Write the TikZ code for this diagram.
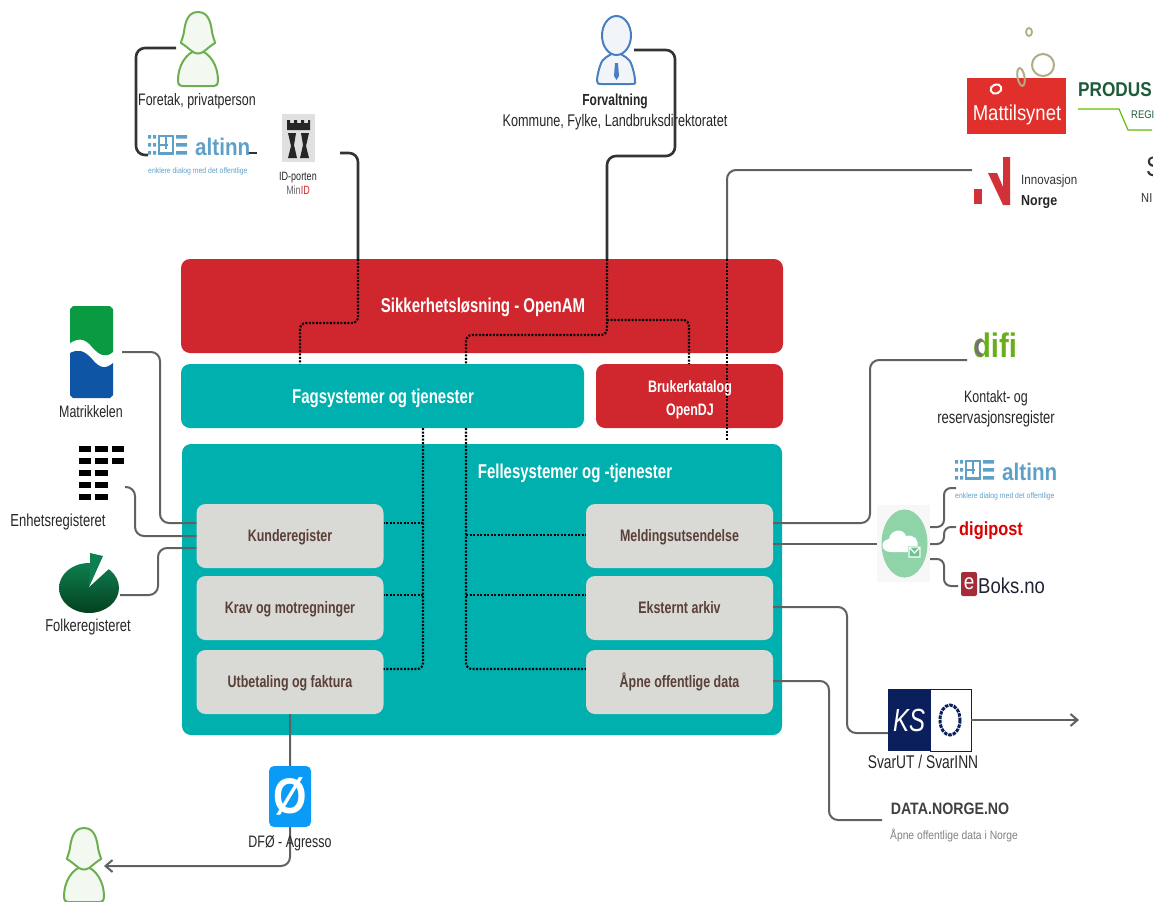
\documentclass[tikz,border=0pt]{standalone}
\usepackage{fontspec}
\setmainfont[FakeStretch=0.75]{Liberation Sans}
\newfontfamily\logofont[FakeStretch=0.86]{Liberation Sans}
\usetikzlibrary{arrows.meta}

\definecolor{redbox}{HTML}{D0262E}
\definecolor{tealbox}{HTML}{00B0AF}
\definecolor{greybox}{HTML}{D9D9D5}
\definecolor{boxtext}{HTML}{5A4038}
\definecolor{altinnblue}{HTML}{5FA0C8}
\definecolor{persongreen}{HTML}{6DAF50}
\definecolor{personblue}{HTML}{4A7FBF}
\definecolor{olive}{HTML}{B0AD85}
\definecolor{produsgreen}{HTML}{1E5B3A}
\definecolor{difigreen}{HTML}{6AAE1E}
\definecolor{mattred}{HTML}{E1302B}
\definecolor{ksnavy}{HTML}{0A1F5C}
\definecolor{dfoblue}{HTML}{0A9BF7}
\definecolor{skygreen}{HTML}{8FD3A8}
\definecolor{skydark}{HTML}{6EC491}
\definecolor{matgreen}{HTML}{0A9A42}
\definecolor{matblue}{HTML}{0E55A5}
\definecolor{folketop}{HTML}{0E7F50}
\definecolor{folkebot}{HTML}{04401F}
\definecolor{boksred}{HTML}{A62B3A}
\definecolor{boksdark}{HTML}{1E2233}

\newcommand{\fsz}[1]{\fontsize{#1}{#1}\selectfont}

\tikzset{
  x=1pt, y=-1pt,
  bigbox/.style={rounded corners=9pt, inner sep=0pt, text height=15pt, text depth=3pt, text=white, font=\fsz{20}\bfseries},
  servicebox/.style={fill=greybox, rounded corners=9pt, inner sep=0pt, minimum width=187pt, minimum height=64pt, text height=13pt, text depth=3pt, text=boxtext, font=\fsz{16.6}\bfseries},
  caption/.style={inner sep=0pt, text height=13pt, text depth=3pt, text=black!85, font=\fsz{16.6}},
  logotext/.style={anchor=base west, inner sep=0pt},
  darkwire/.style={draw=black!80, line width=2.6pt, rounded corners=9pt},
  greywire/.style={draw=black!62, line width=2pt, rounded corners=9pt},
  dotwire/.style={draw=black, line width=2.2pt, dash pattern=on 2pt off 1.5pt, rounded corners=6pt},
  arrowwire/.style={greywire, -{Straight Barb[length=7pt,width=12pt]}},
  bar/.style={fill=black, draw=none},
  person/.pic={
    \path[pic actions, line width=2pt] (0,38) .. controls (-12,40) and (-20,54) .. (-20,68) .. controls (-20,73) and (-18,74) .. (-16,74)
      -- (16,74) .. controls (18,74) and (20,73) .. (20,68) .. controls (20,54) and (12,40) .. (0,38) -- cycle;
    \path[pic actions, line width=2pt] (0,0) .. controls (-11,0) and (-13,12) .. (-14,20)
      .. controls (-15,26) and (-17,29) .. (-17,31) .. controls (-12,34) and (-8,38) .. (-5,40)
      .. controls (-2,42) and (2,42) .. (5,40) .. controls (8,38) and (12,34) .. (17,31)
      .. controls (17,29) and (15,26) .. (14,20) .. controls (13,12) and (11,0) .. (0,0) -- cycle;
  },
  altinn/.pic={
    \fill[altinnblue] (0,0) rectangle (3,3.5) (5,0) rectangle (8,3.5) (0,8) rectangle (3,11.5)
      (5,8) rectangle (8,11.5) (0,16) rectangle (3,19.5) (5,16) rectangle (8,19.5);
    \draw[altinnblue, line width=2.4pt] (11,1.2) -- (25,1.2) -- (25,18.3) -- (11,18.3) -- cycle (11,9.8) -- (20,9.8) (18,1.2) -- (18,14);
    \fill[altinnblue] (28,0) rectangle (39,3.5) (28,8) rectangle (39,11.5) (28,16) rectangle (39,19.5);
    \node[logotext, text=altinnblue, font=\logofont\fsz{24}\bfseries] at (47,20) {altinn};
    \node[logotext, text=altinnblue, font=\logofont\fsz{8}] at (0,38) {enklere dialog med det offentlige};
  },
}

\begin{document}
\begin{tikzpicture}
\useasboundingbox (0,0) rectangle (1159,902);

\node[bigbox, fill=redbox, minimum width=602pt, minimum height=94pt] (sikkerhet) at (482,306) {};
\node[bigbox, fill=tealbox, minimum width=403pt, minimum height=64pt] (fag) at (382.5,396) {};
\node[bigbox, fill=redbox, minimum width=187pt, minimum height=64pt] (katalog) at (689.5,396) {};
\node[bigbox, fill=tealbox, minimum width=600pt, minimum height=291pt] (felles) at (482,589.5) {};

\node[servicebox] (kunde) at (290,536) {Kunderegister};
\node[servicebox] (krav) at (290,608) {Krav og motregninger};
\node[servicebox] (utbetaling) at (290,682) {Utbetaling og faktura};
\node[servicebox] (melding) at (679.5,536) {Meldingsutsendelse};
\node[servicebox] (arkiv) at (679.5,608) {Eksternt arkiv};
\node[servicebox] (data) at (679.5,682) {Åpne offentlige data};

\coordinate (forvaltningut) at (634,50);
\coordinate (innovasjonut) at (972,170);
\coordinate (idut) at (340,153);
\coordinate (persontopp) at (176,48);
\coordinate (altinninn) at (148,155);
\coordinate (altinnut) at (247,153);
\coordinate (altinnend) at (257,153);

\draw[darkwire] (persontopp) -- (136,48) -- (136,155) -- (altinninn);
\draw[darkwire] (altinnut) -- (altinnend);
\draw[darkwire] (idut) -- (358,153) -- (358,259);
\draw[darkwire] (forvaltningut) -- (675,50) -- (675,156) -- (607,156) -- (607,259);
\draw[greywire] (innovasjonut) -- (727,170) -- (727,259);

\draw[dotwire] (358,259) -- (358,323) -- (300,323) -- (300,364);
\draw[dotwire] (607,259) -- (607,335) -- (466,335) -- (466,364);
\draw[dotwire] (607,320) -- (689,320) -- (689,364);
\draw[dotwire, line width=1.8pt] (727,259) -- (727,441);
\draw[dotwire] (423,428) -- (423,669) -- (utbetaling.east |- 0,669);
\draw[dotwire] (423,523) -- (kunde.east |- 0,523);
\draw[dotwire] (423,595) -- (krav.east |- 0,595);
\draw[dotwire] (466,428) -- (466,669) -- (data.west |- 0,669);
\draw[dotwire] (466,535) -- (melding.west |- 0,535);
\draw[dotwire] (466,595) -- (arkiv.west |- 0,595);

\node[bigbox] (sikkerhettext) at (483,306) {Sikkerhetsløsning - OpenAM};
\node[bigbox] (fagtext) at (383,397) {Fagsystemer og tjenester};
\node[bigbox, font=\fsz{16.6}\bfseries] (brukerkatalog) at (690,386) {Brukerkatalog};
\node[bigbox, font=\fsz{16.6}\bfseries] (opendj) at (690,409) {OpenDJ};
\node[bigbox] (fellestext) at (575,472) {Fellesystemer og -tjenester};

\node[caption] (foretak) at (197,100) {Foretak, privatperson};
\node[caption, font=\fsz{16}\bfseries] (forvaltning) at (615,100) {Forvaltning};
\node[caption, font=\fsz{16.9}] (kommune) at (615,121) {Kommune, Fylke, Landbruksdirektoratet};
\draw[darkwire] (675,100) -- (675,150);

\pic[draw=persongreen, fill=persongreen!8] at (198,12) {person};
\pic[draw=persongreen, fill=persongreen!8] at (84,828) {person};

\draw[personblue, fill=personblue!8, line width=2pt] (616,50) .. controls (608,58) and (603,56) .. (600,66) .. controls (598,72) and (597,78) .. (597,81) .. controls (597,84) and (599,84) .. (601,84) -- (631,84) .. controls (634,84) and (636,84) .. (635,81) .. controls (635,78) and (634,72) .. (632,66) .. controls (629,56) and (624,58) .. (616,50) -- cycle;
\draw[personblue, fill=personblue!8, line width=2pt] (616.5,35.5) ellipse (14.5 and 19.5);
\fill[personblue] (615,63) -- (618,63) -- (619,76) -- (616.5,80) -- (614,76) -- cycle;

\pic at (148,135) {altinn};
\pic at (955,460) {altinn};

\fill[black!12] (282,114) rectangle (315,162);
\fill[black!85] (287,120) -- (290,120) -- (290,123) -- (294,123) -- (294,120) -- (297,120) -- (297,123) -- (301,123) -- (301,120) -- (304,120) -- (304,123) -- (308,123) -- (308,120) -- (310,120) -- (310,130) -- (287,130) -- cycle;
\fill[black!85] (288,133) -- (296,133) -- (294,145) -- (297,158) -- (288,158) -- (291,146) -- cycle;
\fill[black!85] (301,133) -- (309,133) -- (306,146) -- (309,158) -- (300,158) -- (303,145) -- cycle;
\node[caption, font=\fsz{12}, text height=9pt, text depth=2pt] (idporten) at (298,177) {ID-porten};
\node[caption, font=\fsz{12}, text height=9pt, text depth=2pt] (minid) at (298,191) {\textcolor{black!60}{Min}\textcolor{redbox}{ID}};

\fill[mattred] (967,78) rectangle (1066,134);
\node[inner sep=0pt, text=white, font=\logofont\fsz{21.5}] (mattilsynet) at (1017,115) {Mattilsynet};
\draw[white, line width=2pt, rotate around={20:(996,89)}] (996,89) ellipse (5.5 and 4.5);
\draw[olive, line width=1.8pt] (1029,32) ellipse (3 and 4);
\draw[olive, line width=2pt] (1043,65) circle (11);
\draw[olive, line width=2pt, rotate around={10:(1021,77)}] (1021,77) ellipse (3.5 and 9);

\node[logotext, text=produsgreen, font=\logofont\fsz{20}\bfseries] (produs) at (1078,96) {PRODUS};
\node[logotext, text=produsgreen, font=\logofont\fsz{11}] (regi) at (1131,118) {REGI};
\draw[green!50!yellow!75!black, line width=1.2pt] (1078,109) -- (1119,109) -- (1128,130) -- (1152,130);
\begin{scope}
\clip (1130,150) rectangle (1152,182);
\node[logotext, text=black!80, font=\logofont\fsz{28}] (ssymbol) at (1146,176) {S};
\end{scope}
\node[logotext, text=black!80, font=\logofont\fsz{13}] (nibio) at (1141,202) {NI};

\fill[redbox!95!white] (974,189) rectangle (982,204);
\fill[redbox!95!white] (988,173) -- (997,173) -- (1003,187) -- (1003,157) -- (1010,157) -- (1010,205) -- (1003,205) -- cycle;
\node[logotext, text=black!80, font=\logofont\fsz{13.5}] (innovasjon) at (1021,184) {Innovasjon};
\node[logotext, text=black!85, font=\logofont\fsz{14.5}\bfseries] (norge) at (1021,205) {Norge};

\draw[greywire] (melding.east |- 0,523) -- (870,523) -- (870,360) -- (967,360);
\draw[greywire] (melding.east |- 0,544) -- (877,544);
\draw[greywire] (arkiv.east |- 0,607) -- (847,607) -- (847,733) -- (888,733);
\draw[greywire] (data.east |- 0,681) -- (829,681) -- (829,820) -- (882,820);

\node[anchor=base, inner sep=0pt, text=difigreen, font=\logofont\fsz{34}\bfseries] (difi) at (995,357) {difi};
\draw[black!55, line width=3.5pt] (982,355) arc (90:270:5.5 and 7.5);
\node[caption] (kontakt) at (996,397) {Kontakt- og};
\node[caption, font=\fsz{17.4}] (reservasjon) at (996,418) {reservasjonsregister};

\fill[black!3] (877,505) rectangle (930,582);
\node[fill=skygreen, circle, inner sep=0pt, minimum size=46pt, yscale=1.48] (sky) at (904.5,543.5) {};
\fill[white] (891,552) .. controls (880,552) and (880,540) .. (889,539) .. controls (890,530) and (903,527) .. (906,536) .. controls (914,534) and (920,540) .. (917,548) -- (915,552) -- cycle;
\fill[skydark] (908,546) rectangle (921,557);
\draw[white, line width=1.2pt] (909,547) rectangle (920,557) (909,547) -- (914.5,553) -- (920,547);

\coordinate (skyaltinn) at (930,527);
\coordinate (skydigi) at (930,544);
\coordinate (skyboks) at (930,559);
\draw[greywire, rounded corners=7pt] (skyaltinn) -- (944,527) -- (944,488) -- (956,488);
\draw[greywire, rounded corners=7pt] (skydigi) -- (944,544) -- (944,527) -- (956,527);
\draw[greywire, rounded corners=7pt] (skyboks) -- (944,559) -- (944,586) -- (958,586);

\node[anchor=base, inner sep=0pt, text=red!85!black, font=\logofont\fsz{19}\bfseries] (digipost) at (991,535) {digipost};
\node[fill=boksred, rounded corners=2pt, minimum width=16pt, minimum height=24pt, inner sep=0pt, text=white, font=\logofont\fsz{22}] (eboks) at (969,584) {e};
\node[logotext, text=boksdark, font=\logofont\fsz{21.5}] (boksno) at (978,593) {Boks.no};

\node[fill=ksnavy, minimum width=42pt, minimum height=62pt, inner sep=0pt, text=white, font=\fsz{32}\itshape] (ks) at (909,720) {KS};
\node[draw=ksnavy, line width=.6pt, minimum width=41pt, minimum height=62pt, inner sep=0pt] (ksring) at (950.5,720) {};
\draw[ksnavy, line width=3pt, dash pattern=on 3.5pt off 1pt] (950,720) ellipse (10 and 15);
\node[caption, font=\fsz{18.4}] (svar) at (923,763) {SvarUT / SvarINN};
\draw[arrowwire] (ksring.east) -- (1079,720);

\node[caption, font=\logofont\fsz{16.5}\bfseries, text=black!75] (datanorge) at (950,809) {DATA.NORGE.NO};
\node[caption, font=\logofont\fsz{12}, text=black!50] (datatekst) at (954,834) {Åpne offentlige data i Norge};

\draw[arrowwire] (utbetaling.south) -- (290,866) -- (104,866);
\node[fill=dfoblue, rounded corners=5pt, minimum width=42pt, minimum height=61pt, inner sep=0pt, text=white, font=\logofont\fsz{50}\bfseries] (dfo) at (290,796.5) {Ø};
\node[caption] (agresso) at (290,842) {DFØ - Agresso};

\fill[matgreen] (73,306) -- (110,306) -- (113,309) -- (113,352) .. controls (106,358) and (100,356) .. (92,347) .. controls (85,338) and (78,338) .. (70,343) -- (70,309) -- cycle;
\fill[matblue] (70,353) .. controls (78,349) and (84,350) .. (92,359) .. controls (100,369) and (106,369) .. (113,363) -- (113,395) -- (110,398) -- (73,398) -- (70,395) -- cycle;
\node[caption] (matrikkelen) at (91,412) {Matrikkelen};

\fill[bar] (79,446) rectangle (91,452);
\fill[bar] (95,446) rectangle (108,452);
\fill[bar] (112,446) rectangle (124,452);
\fill[bar] (79,458) rectangle (91,464);
\fill[bar] (95,458) rectangle (108,464);
\fill[bar] (112,458) rectangle (124,464);
\fill[bar] (79,470) rectangle (91,476);
\fill[bar] (95,470) rectangle (108,476);
\fill[bar] (79,482) rectangle (91,488);
\fill[bar] (95,482) rectangle (108,488);
\fill[bar] (79,494) rectangle (91,500);
\fill[bar] (95,494) rectangle (108,500);
\node[caption, font=\fsz{17.4}] (enhet) at (58,521) {Enhetsregisteret};

\shade[top color=folketop, bottom color=folkebot] (89,588) ellipse (30 and 25);
\fill[white] (89,587) -- (102,557) -- (112,566) -- cycle;
\fill[folketop] (90,553) -- (103,556) -- (89,587) -- (90,565) -- cycle;
\node[caption, font=\fsz{17.2}] (folke) at (88,626) {Folkeregisteret};

\coordinate (matrikkelut) at (122,352);
\coordinate (enhetut) at (125,487);
\coordinate (folkeut) at (120,595);
\draw[greywire] (matrikkelut) -- (160,352) -- (160,523) -- (kunde.west |- 0,523);
\draw[greywire] (enhetut) -- (135,487) -- (135,536) -- (kunde.west);
\draw[greywire] (folkeut) -- (158,595) -- (158,548) -- (kunde.west |- 0,548);
\end{tikzpicture}
\end{document}
